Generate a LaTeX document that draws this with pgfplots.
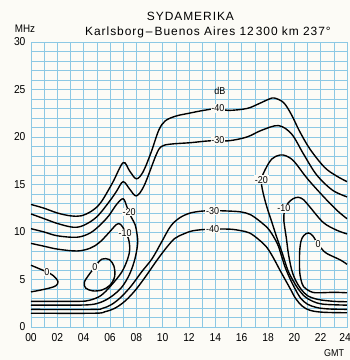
\documentclass[border=0pt]{standalone}
\usepackage{fontspec}
\setmainfont{Liberation Sans}
\newfontfamily\ttl[LetterSpace=8]{Liberation Sans}
\newfontfamily\lbl[FakeStretch=0.9]{Liberation Sans}
\usepackage{pgfplots}
\pgfplotsset{compat=1.18}
\definecolor{gridblue}{RGB}{140,200,228}
\definecolor{paper}{RGB}{252,251,246}
\tikzset{lab/.style={fill=paper, inner sep=0.8pt, font=\lbl\fontsize{10}{11}\selectfont}}
\pgfplotsset{ct/.style={black, line width=1.4pt, mark=none, smooth, tension=0.55}}
\begin{document}
\begin{tikzpicture}
\path[use as bounding box, fill=paper] (-31bp,-33bp) rectangle (319bp,327bp);
\begin{axis}[
  scale only axis, width=316bp, height=285bp,
  at={(0,0)}, anchor=south west,
  xmin=0, xmax=24, ymin=0, ymax=30,
  xtick={0,2,...,24}, xticklabels={00,02,04,06,08,10,12,14,16,18,20,22,\hspace*{-4bp}24},
  ytick={0,5,...,30}, yticklabels={0,5,10,15,20,25,30},
  minor x tick num=1, minor y tick num=4,
  grid=both,
  major grid style={gridblue, line width=0.8pt},
  minor grid style={gridblue, line width=0.5pt},
  axis line style={gridblue, line width=0.8pt},
  major tick length=0pt, minor tick length=0pt,
  tick label style={font=\lbl\fontsize{11.5}{12}\selectfont},
  xticklabel style={yshift=-3bp},
  yticklabel style={xshift=-2bp},
  clip=false,
]
% -40 upper
\addplot[ct] coordinates {(0,12.9) (1,12.5) (2,12.0) (3,11.7) (3.8,11.7) (4.6,12.2) (5.3,13.1) (6.2,15.2) (7.0,17.3) (7.5,16.4) (8.0,15.6) (8.5,16.3) (9.1,18.3) (9.7,20.7) (10.2,21.7) (11.0,22.2) (12,22.5) (13.1,22.8) (14.2,23.0) (15.0,22.8) (16.4,23.0) (17.3,23.5) (18.1,24.0) (18.5,24.1) (19.2,23.6) (19.8,22.3) (20.4,20.6) (21.2,18.7) (22.3,16.8) (23.2,15.9) (24,15.3)};
% -30 upper
\addplot[ct] coordinates {(0,11.9) (1,11.4) (2,10.9) (3.2,10.5) (4,10.7) (5,11.6) (6,13.3) (6.5,14.3) (7.0,15.3) (7.5,14.5) (8.0,13.8) (8.6,14.9) (9.5,18.1) (9.9,19.0) (10.6,19.25) (12.1,19.4) (13.6,19.6) (15,19.6) (16.4,20.0) (17.5,20.7) (18.8,21.2) (19.8,20.3) (20.7,18.2) (21.7,16.0) (22.9,14.4) (24,13.7)};
% -20 left
\addplot[ct] coordinates {(0,10.35) (1,10.0) (2,9.6) (3.5,9.45) (4.5,9.9) (5.3,10.8) (5.9,11.7) (6.5,12.9) (7.0,13.5) (7.3,12.6) (7.6,11.6) (7.9,10.8) (8.05,9.8) (8.1,8.8) (7.9,7.2) (7.5,5.6) (6.9,4.2) (6.1,3.2) (5.3,2.6) (4.5,2.35) (3,2.3) (0,2.3)};
% -10 left
\addplot[ct] coordinates {(0,8.8) (1,8.5) (2,8.2) (3.5,8.0) (4.5,8.3) (5.2,8.9) (5.9,9.9) (6.5,10.8) (6.8,10.8) (7.1,10.2) (7.4,9.3) (7.5,8.2) (7.35,7.2) (6.9,5.8) (6.1,4.4) (5.3,3.3) (4.4,2.8) (3.5,2.7) (0,2.7)};
% -30 lower
\addplot[ct] coordinates {(0,1.85) (4.7,1.85) (5.4,1.95) (6.1,2.35) (6.8,3.1) (7.6,4.3) (8.4,5.8) (9.2,7.2) (9.9,8.9) (10.6,10.6) (11.3,11.5) (12.1,12.0) (13.0,12.2) (13.8,12.25) (15.1,12.2) (16.0,12.1) (16.7,11.8) (17.5,11.0) (18.1,10.2) (18.7,8.8) (19.0,7.6) (19.3,6.3) (19.7,5.0) (20.1,3.9) (20.5,3.0) (21.0,2.4) (21.7,2.05) (22.6,1.9) (24,1.86)};
% -40 lower
\addplot[ct] coordinates {(0,1.45) (4.8,1.45) (5.6,1.6) (6.4,2.0) (7.2,2.8) (8.0,4.0) (8.8,5.5) (9.5,6.9) (10.2,8.2) (10.9,9.3) (11.6,9.8) (12.2,10.1) (13.0,10.25) (13.8,10.3) (15.1,10.3) (15.9,10.15) (16.6,9.9) (17.3,9.2) (17.9,8.4) (18.4,7.3) (18.9,6.0) (19.3,5.0) (19.7,4.0) (20.1,3.0) (20.6,2.2) (21.2,1.75) (22.2,1.55) (24,1.5)};
% -20 right
\addplot[ct] coordinates {(24,11.4) (23.3,12.2) (22.3,13.6) (21.0,15.6) (20.0,17.4) (19.4,18.0) (18.9,18.1) (18.3,17.7) (17.8,16.6) (17.5,15.5) (17.6,14.3) (17.9,12.7) (18.3,11.0) (18.65,9.5) (19.1,7.7) (19.5,6.0) (19.9,4.9) (20.3,4.0) (20.8,3.2) (21.4,2.7) (22.2,2.4) (24,2.3)};
% -10 right
\addplot[ct] coordinates {(24,9.8) (23.2,10.2) (22.2,11.0) (21.2,12.6) (20.7,13.4) (20.3,13.65) (19.9,13.5) (19.5,13.0) (19.25,12.2) (19.2,11.3) (19.3,10.2) (19.4,9.3) (19.55,7.7) (19.8,6.0) (20.1,4.9) (20.5,4.0) (21.0,3.3) (21.8,2.9) (23,2.7) (24,2.66)};
% 0 right
\addplot[ct] coordinates {(24,6.6) (23.5,7.05) (22.45,7.75) (22.1,8.2) (21.8,8.7) (21.4,9.6) (21.05,9.9) (20.7,9.6) (20.5,9.0) (20.4,7.8) (20.4,6.0) (20.5,5.0) (20.7,4.25) (21.2,3.75) (21.7,3.6) (23,3.65) (24,3.6)};
% 0 left edge
\addplot[ct] coordinates {(0,6.5) (0.6,6.15) (1.2,5.8) (1.7,5.4) (2.05,4.8) (1.9,4.35) (1.4,4.1) (0.6,3.85) (0,3.7)};
% 0 middle loop
\addplot[ct] coordinates {(4.85,6.3) (4.4,5.5) (4.05,4.7) (4.15,4.1) (4.7,3.8) (5.4,3.9) (6.0,4.4) (6.35,5.3) (6.3,6.4) (5.95,7.1) (5.4,7.15) (5.0,6.6)};
% labels
\node[lab] at (14.2,23.0) {-40};
\node[lab] at (14.2,19.65) {-30};
\node[lab, fill=none] at (14.35,24.8) {dB};
\node[lab] at (13.8,12.25) {-30};
\node[lab] at (13.8,10.3) {-40};
\node[lab] at (7.45,12.1) {-20};
\node[lab] at (7.15,9.9) {-10};
\node[lab] at (1.2,5.8) {0};
\node[lab] at (4.85,6.3) {0};
\node[lab] at (17.5,15.5) {-20};
\node[lab] at (19.2,12.5) {-10};
\node[lab] at (21.8,8.7) {0};
% titles
\node[font=\ttl\fontsize{12}{13}\selectfont] at (12.11,32.74) {SYDAMERIKA};
\node[font=\ttl\fontsize{12}{13}\selectfont] at (13.44,31.05) {Karlsborg\,–\,Buenos Aires 12\,300 km 237°};
\node[font=\lbl\fontsize{11}{12}\selectfont] at (-0.46,31.37) {MHz};
\node[font=\lbl\fontsize{10}{11}\selectfont, anchor=east] at (24.05,-2.75) {GMT};
\end{axis}
\end{tikzpicture}
\end{document}
